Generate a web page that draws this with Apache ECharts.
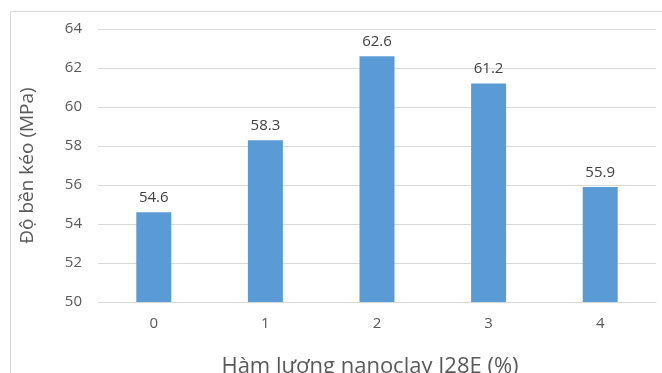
<!DOCTYPE html>
<html>
<head>
<meta charset="utf-8">
<script src="https://cdn.jsdelivr.net/npm/echarts@6/dist/echarts.min.js"></script>
<style>
  html, body { margin: 0; padding: 0; background: #fff; }
  #chart { width: 662px; height: 373px; }
</style>
</head>
<body>
<div id="chart"></div>
<script>
// Nanoclay content (%) and the measured tensile strength (MPa)
const categories = ['0', '1', '2', '3', '4'];
const strength = [54.6, 58.3, 62.6, 61.2, 55.9];
const yTicks = { min: 50, max: 64, interval: 2 };

const FONT = '"Open Sans", "Noto Sans", sans-serif';
const chart = echarts.init(document.getElementById('chart'));

chart.setOption({
  animation: false,
  backgroundColor: '#ffffff',
  graphic: [{
    type: 'rect',
    shape: { x: 10.5, y: 11.5, width: 700, height: 400 },
    style: { fill: 'none', stroke: '#d9d9d9', lineWidth: 1 },
    z: -1
  }],
  grid: { left: 98, right: 6, top: 29, bottom: 71, containLabel: false, outerBoundsMode: 'none' },
  xAxis: {
    type: 'category',
    data: categories,
    name: 'Hàm lượng nanoclay I28E (%)',
    nameLocation: 'middle',
    nameGap: 54,
    nameTextStyle: { color: '#595959', fontSize: 22, fontFamily: FONT, padding: [0, 14, 0, 0] },
    axisLine: { lineStyle: { color: '#d9d9d9' } },
    axisTick: { show: false },
    axisLabel: { color: '#595959', fontSize: 15, fontFamily: FONT, margin: 14 }
  },
  yAxis: {
    type: 'value',
    min: yTicks.min,
    max: yTicks.max,
    interval: yTicks.interval,
    name: 'Độ bền kéo (MPa)',
    nameLocation: 'middle',
    nameGap: 61,
    nameTextStyle: { color: '#595959', fontSize: 19, fontFamily: FONT },
    axisLine: { show: false },
    axisTick: { show: false },
    axisLabel: { color: '#595959', fontSize: 15, fontFamily: FONT, margin: 16 },
    splitLine: { lineStyle: { color: '#d9d9d9' } }
  },
  series: [{
    type: 'bar',
    data: strength,
    barWidth: 35,
    itemStyle: { color: '#5b9bd5' },
    label: {
      show: true,
      position: 'top',
      distance: 7,
      color: '#404040',
      fontSize: 15,
      fontFamily: FONT,
      formatter: p => p.value.toFixed(1)
    }
  }]
});
</script>
</body>
</html>
